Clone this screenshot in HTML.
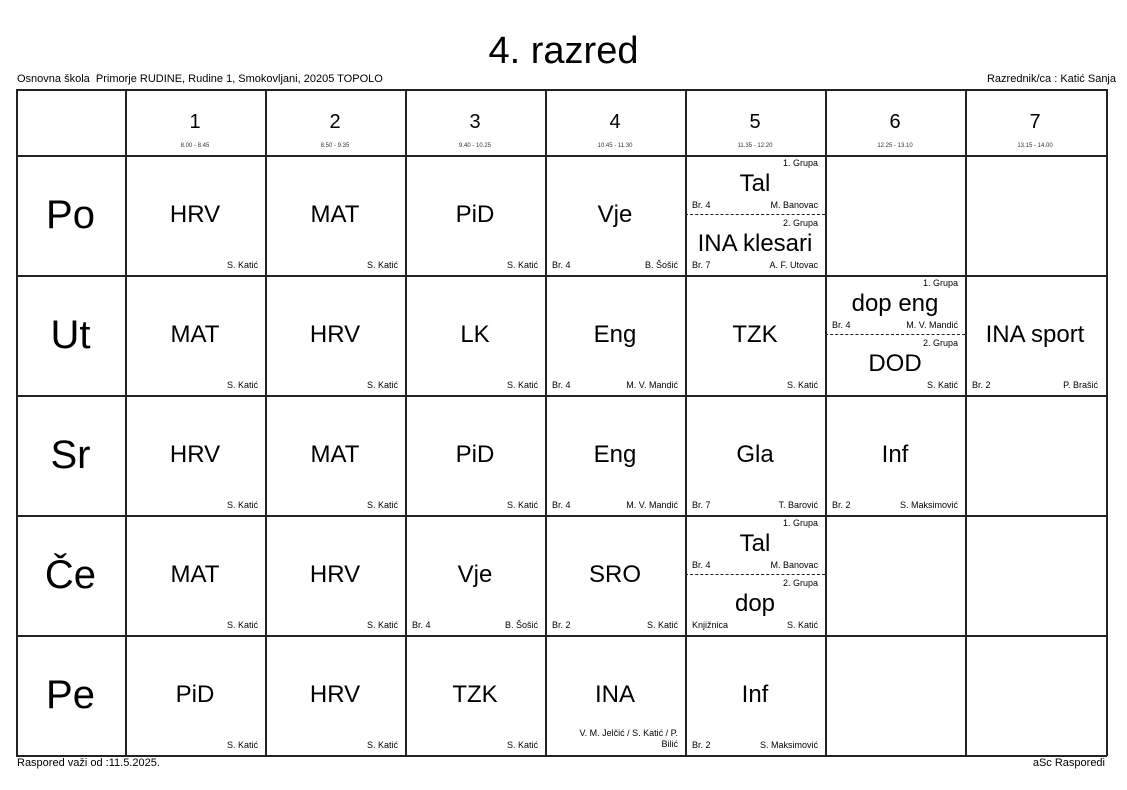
<!DOCTYPE html>
<html><head><meta charset="utf-8"><style>
body{margin:0;width:1127px;height:790px;background:#fff;position:relative;font-family:"Liberation Sans",Arial,sans-serif;color:#000;overflow:hidden}
.a{position:absolute}
.hl{position:absolute;left:16px;width:1091px;height:1.5px;background:#222}
.vl{position:absolute;top:89px;height:667px;width:1.5px;background:#222}
.c{position:absolute;width:140px;height:120px}
.s{position:absolute;left:0;width:100%;top:46px;text-align:center;font-size:24px;line-height:28px;white-space:nowrap}
.t{position:absolute;right:7px;bottom:5px;font-size:9px;line-height:10px}
.r{position:absolute;left:7px;bottom:5px;font-size:9px;line-height:10px}
.h{position:absolute;left:0;width:140px;height:60px}
.h .s{top:15px}
.g{position:absolute;right:7px;top:3px;font-size:9px}
.d{position:absolute;left:0;width:100%;top:59px;border-top:1.3px dashed #222}
.day{position:absolute;left:16px;width:109px;text-align:center;font-size:40px;line-height:46px}
.hn{position:absolute;width:140px;text-align:center;top:110px;font-size:20px;line-height:24px}
.ht{position:absolute;width:140px;text-align:center;top:143px;font-size:6px;color:#333}
</style></head><body>
<div class="a" style="left:0;width:1127px;top:28px;text-align:center;font-size:38px;line-height:46px">4. razred</div>
<div class="a" style="left:17px;top:73px;font-size:11px">Osnovna škola&nbsp; Primorje RUDINE, Rudine 1, Smokovljani, 20205 TOPOLO</div>
<div class="a" style="right:11px;top:73px;font-size:11px">Razrednik/ca : Katić Sanja</div>
<div class="a" style="left:17px;top:757px;font-size:11px">Raspored važi od :11.5.2025.</div>
<div class="a" style="right:22px;top:757px;font-size:11px">aSc Rasporedi</div>

<div class="hl" style="top:89px"></div><div class="hl" style="top:155px"></div><div class="hl" style="top:275px"></div><div class="hl" style="top:395px"></div><div class="hl" style="top:515px"></div><div class="hl" style="top:635px"></div><div class="hl" style="top:755px"></div>
<div class="vl" style="left:16px"></div><div class="vl" style="left:125px"></div><div class="vl" style="left:265px"></div><div class="vl" style="left:405px"></div><div class="vl" style="left:545px"></div><div class="vl" style="left:685px"></div><div class="vl" style="left:825px"></div><div class="vl" style="left:965px"></div><div class="vl" style="left:1106px"></div>

<div class="hn" style="left:125px">1</div><div class="ht" style="left:125px">8.00 - 8.45</div>
<div class="hn" style="left:265px">2</div><div class="ht" style="left:265px">8.50 - 9.35</div>
<div class="hn" style="left:405px">3</div><div class="ht" style="left:405px">9.40 - 10.25</div>
<div class="hn" style="left:545px">4</div><div class="ht" style="left:545px">10.45 - 11.30</div>
<div class="hn" style="left:685px">5</div><div class="ht" style="left:685px">11.35 - 12.20</div>
<div class="hn" style="left:825px">6</div><div class="ht" style="left:825px">12.25 - 13.10</div>
<div class="hn" style="left:965px">7</div><div class="ht" style="left:965px">13.15 - 14.00</div>

<div class="day" style="top:192px">Po</div>
<div class="day" style="top:312px">Ut</div>
<div class="day" style="top:432px">Sr</div>
<div class="day" style="top:552px">Če</div>
<div class="day" style="top:672px">Pe</div>

<!-- Po -->
<div class="c" style="left:125px;top:155px"><div class="s">HRV</div><div class="t">S. Katić</div></div>
<div class="c" style="left:265px;top:155px"><div class="s">MAT</div><div class="t">S. Katić</div></div>
<div class="c" style="left:405px;top:155px"><div class="s">PiD</div><div class="t">S. Katić</div></div>
<div class="c" style="left:545px;top:155px"><div class="s">Vje</div><div class="r">Br. 4</div><div class="t">B. Šošić</div></div>
<div class="c" style="left:685px;top:155px">
 <div class="h" style="top:0"><div class="g">1. Grupa</div><div class="s">Tal</div><div class="r">Br. 4</div><div class="t">M. Banovac</div></div>
 <div class="d"></div>
 <div class="h" style="top:60px"><div class="g">2. Grupa</div><div class="s">INA klesari</div><div class="r">Br. 7</div><div class="t">A. F. Utovac</div></div>
</div>
<!-- Ut -->
<div class="c" style="left:125px;top:275px"><div class="s">MAT</div><div class="t">S. Katić</div></div>
<div class="c" style="left:265px;top:275px"><div class="s">HRV</div><div class="t">S. Katić</div></div>
<div class="c" style="left:405px;top:275px"><div class="s">LK</div><div class="t">S. Katić</div></div>
<div class="c" style="left:545px;top:275px"><div class="s">Eng</div><div class="r">Br. 4</div><div class="t">M. V. Mandić</div></div>
<div class="c" style="left:685px;top:275px"><div class="s">TZK</div><div class="t">S. Katić</div></div>
<div class="c" style="left:825px;top:275px">
 <div class="h" style="top:0"><div class="g">1. Grupa</div><div class="s">dop eng</div><div class="r">Br. 4</div><div class="t">M. V. Mandić</div></div>
 <div class="d"></div>
 <div class="h" style="top:60px"><div class="g">2. Grupa</div><div class="s">DOD</div><div class="t">S. Katić</div></div>
</div>
<div class="c" style="left:965px;top:275px"><div class="s">INA sport</div><div class="r">Br. 2</div><div class="t">P. Brašić</div></div>
<!-- Sr -->
<div class="c" style="left:125px;top:395px"><div class="s">HRV</div><div class="t">S. Katić</div></div>
<div class="c" style="left:265px;top:395px"><div class="s">MAT</div><div class="t">S. Katić</div></div>
<div class="c" style="left:405px;top:395px"><div class="s">PiD</div><div class="t">S. Katić</div></div>
<div class="c" style="left:545px;top:395px"><div class="s">Eng</div><div class="r">Br. 4</div><div class="t">M. V. Mandić</div></div>
<div class="c" style="left:685px;top:395px"><div class="s">Gla</div><div class="r">Br. 7</div><div class="t">T. Barović</div></div>
<div class="c" style="left:825px;top:395px"><div class="s">Inf</div><div class="r">Br. 2</div><div class="t">S. Maksimović</div></div>
<!-- Ce -->
<div class="c" style="left:125px;top:515px"><div class="s">MAT</div><div class="t">S. Katić</div></div>
<div class="c" style="left:265px;top:515px"><div class="s">HRV</div><div class="t">S. Katić</div></div>
<div class="c" style="left:405px;top:515px"><div class="s">Vje</div><div class="r">Br. 4</div><div class="t">B. Šošić</div></div>
<div class="c" style="left:545px;top:515px"><div class="s">SRO</div><div class="r">Br. 2</div><div class="t">S. Katić</div></div>
<div class="c" style="left:685px;top:515px">
 <div class="h" style="top:0"><div class="g">1. Grupa</div><div class="s">Tal</div><div class="r">Br. 4</div><div class="t">M. Banovac</div></div>
 <div class="d"></div>
 <div class="h" style="top:60px"><div class="g">2. Grupa</div><div class="s">dop</div><div class="r">Knjižnica</div><div class="t">S. Katić</div></div>
</div>
<!-- Pe -->
<div class="c" style="left:125px;top:635px"><div class="s">PiD</div><div class="t">S. Katić</div></div>
<div class="c" style="left:265px;top:635px"><div class="s">HRV</div><div class="t">S. Katić</div></div>
<div class="c" style="left:405px;top:635px"><div class="s">TZK</div><div class="t">S. Katić</div></div>
<div class="c" style="left:545px;top:635px"><div class="s">INA</div><div class="a" style="left:20px;width:113px;bottom:5px;text-align:right;font-size:9px;line-height:11px">V. M. Jelčić / S. Katić / P.<br>Bilić</div></div>
<div class="c" style="left:685px;top:635px"><div class="s">Inf</div><div class="r">Br. 2</div><div class="t">S. Maksimović</div></div>
</body></html>
